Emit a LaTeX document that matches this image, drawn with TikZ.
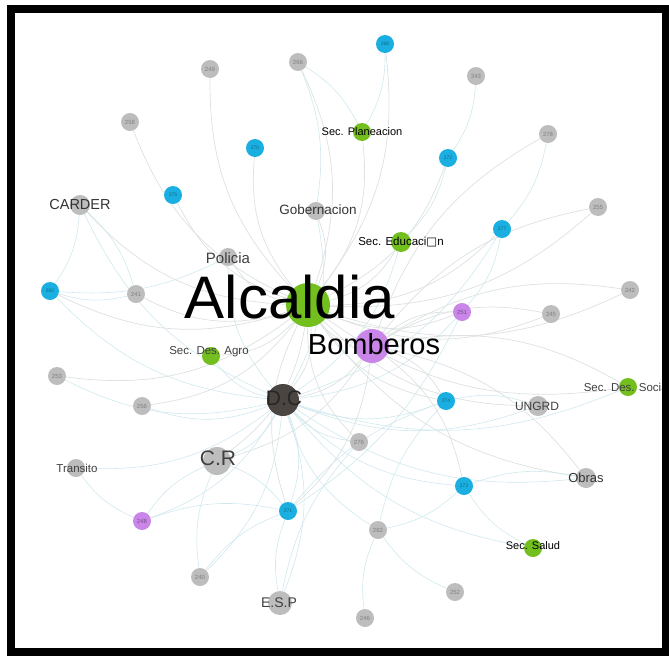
\documentclass[tikz,border=0pt]{standalone}
\usepackage{fontspec}
\setmainfont{Liberation Sans}
\newfontfamily\boxfont{DejaVu Sans}
\usetikzlibrary{backgrounds}
\definecolor{grayn}{HTML}{BDBDBD}
\definecolor{greenn}{HTML}{72BF1E}
\definecolor{bluen}{HTML}{1AAFE0}
\definecolor{purplen}{HTML}{C985E8}
\definecolor{darkn}{HTML}{4B4542}
\definecolor{edgegray}{HTML}{DDE1E1}
\definecolor{edgecyan}{HTML}{CFE8EE}
\newcommand\fsz[1]{\fontsize{#1}{#1}\selectfont}
\tikzset{
  dot/.style={circle, inner sep=0pt, minimum size=18pt},
  numdot/.style={dot, fill=grayn, font=\fsz{6}, text=black!50},
  bluedot/.style={dot, fill=bluen, font=\fsz{5}, text=bluen!60!black},
  violetdot/.style={dot, fill=purplen, font=\fsz{6}, text=purplen!60!black},
  greendot/.style={dot, fill=greenn},
  graydot/.style={dot, fill=grayn},
  edge/.style={draw=edgegray, line width=0.7pt},
  edgec/.style={draw=edgecyan, line width=0.6pt}
}
\begin{document}
\begin{tikzpicture}[x=1pt,y=-1pt]
  \useasboundingbox (0,0) rectangle (669,656);

  % main actors
  \node[greendot, minimum size=44pt] (alc) at (308,305) {};
  \node[dot, fill=purplen, minimum size=34pt] (bomb) at (372,346) {};
  \node[dot, fill=darkn, minimum size=32pt] (dc) at (283,400) {};
  \node[graydot, minimum size=28pt] (cr) at (217,461) {};
  \node[graydot] (pol) at (228,257) {};
  \node[graydot] (gob) at (316,211) {};
  \node[graydot, minimum size=20pt] (carder) at (80,205) {};
  \node[greendot] (plan) at (362,132) {};
  \node[greendot, minimum size=20pt] (educ) at (401,242) {};
  \node[greendot] (agro) at (211,356) {};
  \node[greendot] (social) at (628,387) {};
  \node[graydot, minimum size=20pt] (ungrd) at (538,406) {};
  \node[graydot, minimum size=20pt] (obras) at (586,478) {};
  \node[graydot] (transito) at (76,468) {};
  \node[greendot] (salud) at (533,548) {};
  \node[graydot, minimum size=24pt] (esp) at (280,603) {};

  % numbered actors
  \node[numdot] (n249) at (210,69) {249};
  \node[numdot] (n266) at (298,62) {266};
  \node[numdot] (n243) at (476,76) {243};
  \node[numdot] (n258) at (130,122) {258};
  \node[numdot] (n278) at (548,134) {278};
  \node[numdot] (n255) at (598,207) {255};
  \node[numdot] (n242) at (630,290) {242};
  \node[numdot] (n245) at (551,314) {245};
  \node[numdot] (n241) at (136,294) {241};
  \node[numdot] (n253) at (57,376) {253};
  \node[numdot] (n256) at (142,406) {256};
  \node[numdot] (n276) at (359,442) {276};
  \node[numdot] (n240) at (200,577) {240};
  \node[numdot] (n282) at (378,530) {282};
  \node[numdot] (n252) at (455,592) {252};
  \node[numdot] (n246) at (365,618) {246};
  \node[violetdot] (n248) at (142,521) {248};
  \node[violetdot] (n251) at (462,312) {251};
  \node[bluedot] (b1) at (385,44) {268};
  \node[bluedot] (b2) at (255,148) {270};
  \node[bluedot] (b3) at (448,158) {272};
  \node[bluedot] (b4) at (173,195) {275};
  \node[bluedot] (b5) at (502,229) {277};
  \node[bluedot] (b6) at (50,291) {260};
  \node[bluedot] (b7) at (446,401) {274};
  \node[bluedot] (b8) at (464,486) {273};
  \node[bluedot] (b9) at (288,511) {271};

  % links
  \begin{pgfonlayer}{background}
    \foreach \a/\b in {alc/n249,alc/n258,alc/b2,alc/b4,alc/carder,alc/pol,alc/n241,
        alc/b6,alc/agro,alc/n253,alc/n256,alc/cr,alc/dc}
      \draw[edge] (\a) to[bend left=22] (\b);
    \foreach \a/\b in {alc/n266,alc/gob,alc/plan,alc/educ,alc/b3,alc/b5,alc/b1,
        alc/n251,alc/n245,alc/n242,alc/n255,alc/bomb,alc/b7,alc/n276,alc/b9,
        alc/ungrd,alc/social,alc/obras}
      \draw[edge] (\a) to[bend right=22] (\b);
    \foreach \a/\b in {dc/cr,dc/agro,dc/pol,dc/carder,dc/b6,dc/n253,dc/n256,
        dc/n248,dc/transito,dc/esp,dc/b9,dc/n240}
      \draw[edgec] (\a) to[bend left=20] (\b);
    \foreach \a/\b in {dc/b7,dc/b8,dc/ungrd,dc/obras,dc/salud,dc/n282,dc/n276,
        dc/social,dc/n251,dc/b5,dc/educ,dc/gob}
      \draw[edgec] (\a) to[bend right=20] (\b);
    \foreach \a/\b in {bomb/n251,bomb/n242,bomb/n245,bomb/n255,bomb/b7,bomb/b9,
        bomb/b8,bomb/dc,bomb/social,bomb/obras,bomb/n278,bomb/cr}
      \draw[edge] (\a) to[bend left=20] (\b);
    \foreach \a/\b in {n243/b3,n278/b5,b5/n251,n251/b9,b3/educ,b1/plan,
        n252/n282,n246/n282,n240/cr,n240/b9,n248/transito,n248/b9,n248/cr,
        esp/b9,salud/b8,b8/obras,b8/n282,b9/b7,carder/n241,carder/b6,n241/b6,
        cr/b9,n266/plan,n266/gob,pol/b6,b7/ungrd,n282/b7,esp/n276}
      \draw[edgec] (\a) to[bend left=15] (\b);
  \end{pgfonlayer}

  % names
  \node[font=\fsz{60}] (alc-t) at (290,297) {Alcaldia};
  \node[font=\fsz{29}] (bomb-t) at (374,344) {Bomberos};
  \node[font=\fsz{21}, text=black!85] (dc-t) at (284,398) {D.C};
  \node[font=\fsz{21}, text=black!75] (cr-t) at (218,458) {C.R};
  \node[font=\fsz{15}, text=black!75] (pol-t) at (228,258) {Policia};
  \node[font=\fsz{13.5}, text=black!80] (gob-t) at (318,210) {Gobernacion};
  \node[font=\fsz{14.5}, text=black!80] (carder-t) at (80,205) {CARDER};
  \node[font=\fsz{11}] (plan-t) at (362,132) {Sec. Planeacion};
  \node[font=\fsz{11.5}] (educ-t) at (401,242) {Sec. Educaci{\boxfont □}n};
  \node[font=\fsz{11.5}, text=black!75] (agro-t) at (209,352) {Sec. Des. Agro};
  \node[font=\fsz{11.5}, text=black!75] (social-t) at (627,387) {Sec. Des. Social};
  \node[font=\fsz{12}, text=black!75] (ungrd-t) at (537,406) {UNGRD};
  \node[font=\fsz{13}, text=black!80] (obras-t) at (586,478) {Obras};
  \node[font=\fsz{11.5}, text=black!75] (transito-t) at (77,468) {Transito};
  \node[font=\fsz{11}] (salud-t) at (533,546) {Sec. Salud};
  \node[font=\fsz{14}, text=black!75] (esp-t) at (279,603) {E.S.P};

  % frame
  \draw[line width=8pt] (11,9) rectangle (666,652);
\end{tikzpicture}
\end{document}
